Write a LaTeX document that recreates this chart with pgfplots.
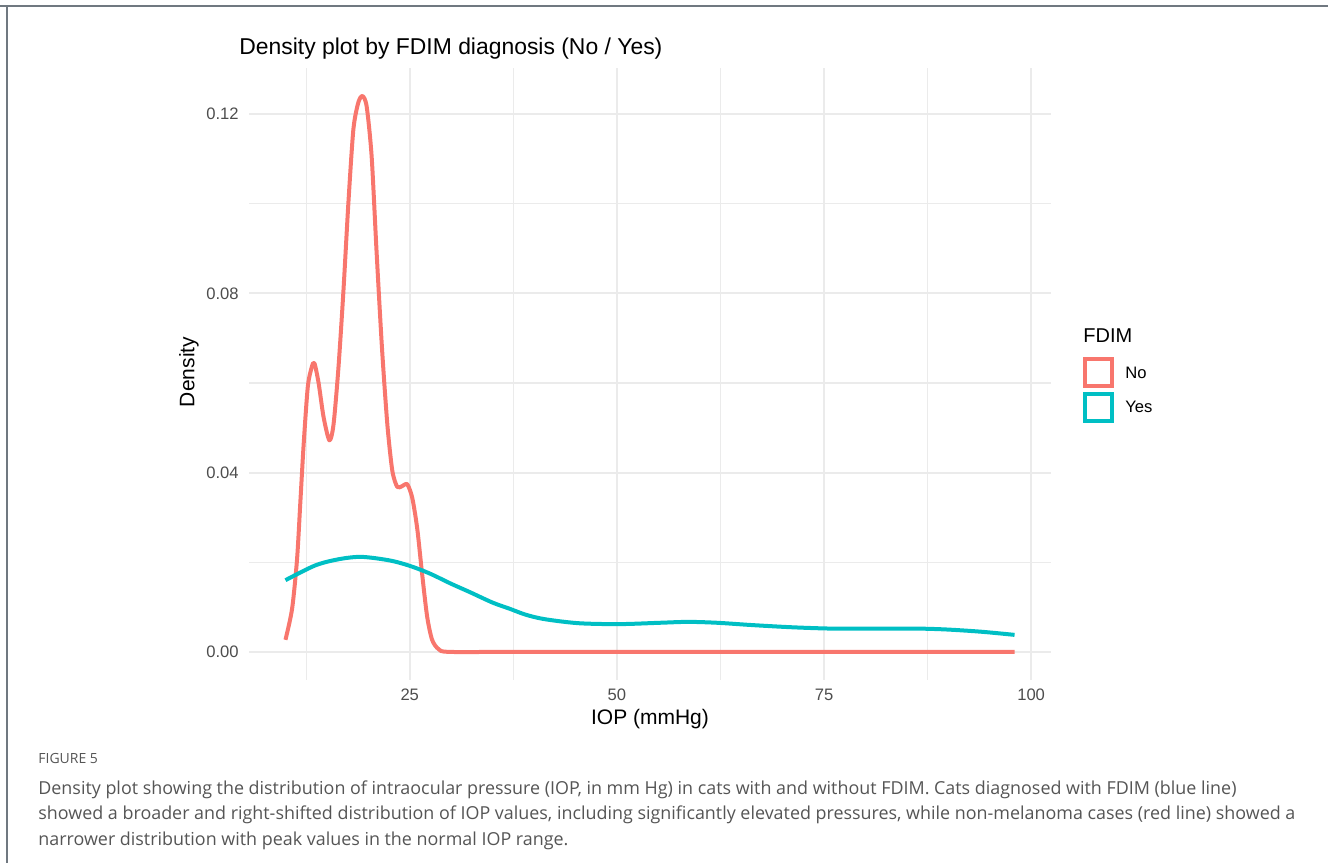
\documentclass[border=0pt]{standalone}
\usepackage{pgfplots}
\pgfplotsset{compat=1.18}
\usepackage{fontspec}
\setmainfont{Liberation Sans}
\newfontfamily\capfont{Open Sans}
\definecolor{cNo}{HTML}{F8766D}
\definecolor{cYes}{HTML}{00BFC4}
\definecolor{gridc}{HTML}{EBEBEB}
\definecolor{tickc}{HTML}{4D4D4D}
\definecolor{capc}{HTML}{555555}
\definecolor{framec}{HTML}{707880}

\pgfplotstableread{
x y
10.0 0.0027
10.8 0.0096
11.4 0.0207
11.8 0.0335
12.2 0.0464
12.7 0.0592
13.2 0.0637
13.5 0.0644
14.0 0.0600
14.6 0.0524
15.3 0.0472
15.8 0.0507
16.4 0.0635
17.0 0.0806
17.6 0.1003
18.2 0.1166
18.8 0.1226
19.3 0.1240
19.8 0.1217
20.4 0.1106
21.0 0.0892
21.65 0.0678
22.3 0.0507
22.9 0.0404
23.5 0.0368
24.1 0.0370
24.7 0.0374
25.3 0.0344
25.9 0.0276
26.5 0.0173
27.1 0.0079
27.7 0.0027
28.5 0.0006
29.9 0.0000
40 0.0000
98 0.0000
}\noTable

\pgfplotstableread{
x y
10.0 0.0160
13.6 0.0193
16.5 0.0207
19.2 0.0212
22.6 0.0204
25.0 0.0192
27.4 0.0175
30.0 0.0152
32.3 0.0133
35.0 0.0110
37.1 0.0096
39.0 0.0083
41.3 0.0073
45.4 0.0064
50.3 0.0062
55.2 0.0065
58.6 0.0067
62.1 0.0065
66.2 0.0060
71.1 0.0055
76.0 0.0052
81.5 0.0052
86.3 0.0052
89.8 0.0050
94.0 0.0045
98.0 0.0038
}\yesTable

\begin{document}
\begin{tikzpicture}
\useasboundingbox (0,0) rectangle (664pt,431.5pt);
\begin{axis}[
 at={(124.5pt,91.65pt)}, anchor=south west,
 scale only axis, width=401pt, height=305.7pt,
 xmin=5.6, xmax=102.4, ymin=-0.0062, ymax=0.1302,
 axis line style={draw=none},
 tick style={draw=none},
 xtick={25,50,75,100}, minor xtick={12.5,37.5,62.5,87.5},
 ytick={0,0.04,0.08,0.12}, minor ytick={0.02,0.06,0.10},
 scaled y ticks=false,
 grid=both,
 major grid style={gridc, line width=1pt},
 minor grid style={gridc, line width=0.55pt},
 /pgf/number format/assume math mode=true,
 ticklabel style={font=\fontsize{8.3}{10}\selectfont, text=tickc, inner sep=0pt},
 yticklabel style={/pgf/number format/fixed, /pgf/number format/fixed zerofill, /pgf/number format/precision=2, anchor=east, xshift=-5pt},
 xticklabel style={anchor=north, yshift=-4.6pt},
]
\addplot[cNo, line width=2pt, smooth, tension=0.45, line join=round] table {\noTable};
\addplot[cYes, line width=2pt, smooth, tension=0.5, line join=round] table {\yesTable};
\end{axis}
\begin{scope}[x=0.5pt,y=0.5pt]
\draw[framec, line width=1pt] (0,857) -- (1328,857);
\draw[framec, line width=1pt] (7,857) -- (7,0);
\node[anchor=base west, inner sep=0pt, font=\fontsize{11.45}{13}\selectfont] at (239,808) {Density plot by FDIM diagnosis (No / Yes)};
\node[anchor=base, inner sep=0pt, font=\fontsize{10.5}{12}\selectfont] at (650,139) {IOP (mmHg)};
\node[rotate=90, anchor=center, inner sep=0pt, font=\fontsize{10.5}{12}\selectfont] at (189,491) {Density};
\node[anchor=base west, inner sep=0pt, font=\fontsize{10}{12}\selectfont] at (1083,520) {FDIM};
\draw[cNo, line width=1.75pt] (1085,504) rectangle (1112,477);
\draw[cYes, line width=1.75pt] (1085,469) rectangle (1112,442);
\node[anchor=west, inner sep=0pt, font=\fontsize{8.3}{10}\selectfont] at (1125,490.5) {No};
\node[anchor=west, inner sep=0pt, font=\fontsize{8.3}{10}\selectfont] at (1125,456) {Yes};
\node[anchor=base west, inner sep=0pt, font=\capfont\fontsize{7}{8}\selectfont, text=capc] at (38,100) {FIGURE 5};
\node[anchor=base west, inner sep=0pt, font=\capfont\fontsize{8.95}{10}\selectfont, text=capc] at (38,69) {Density plot showing the distribution of intraocular pressure (IOP, in mm Hg) in cats with and without FDIM. Cats diagnosed with FDIM (blue line)};
\node[anchor=base west, inner sep=0pt, font=\capfont\fontsize{8.95}{10}\selectfont, text=capc] at (38,43.5) {showed a broader and right-shifted distribution of IOP values, including significantly elevated pressures, while non-melanoma cases (red line) showed a};
\node[anchor=base west, inner sep=0pt, font=\capfont\fontsize{8.95}{10}\selectfont, text=capc] at (38,18) {narrower distribution with peak values in the normal IOP range.};
\end{scope}
\end{tikzpicture}
\end{document}
